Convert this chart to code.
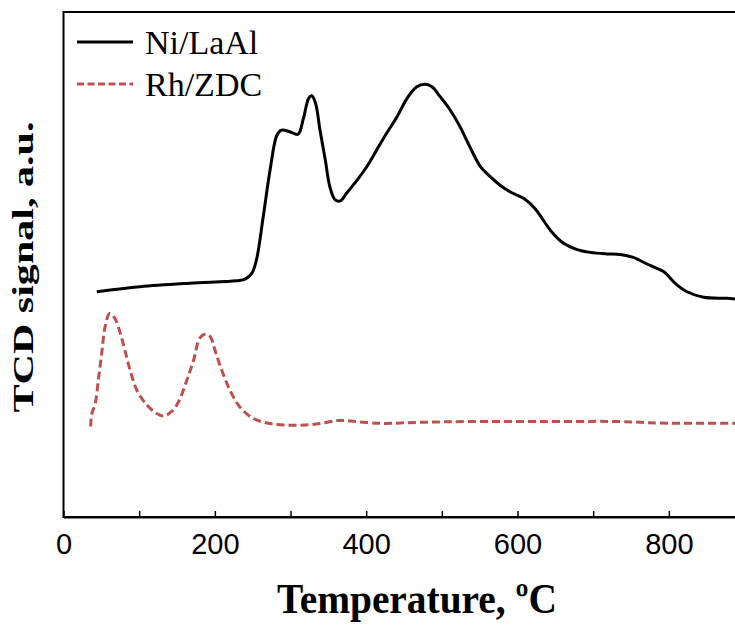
<!DOCTYPE html>
<html>
<head>
<meta charset="utf-8">
<script src="https://cdn.jsdelivr.net/npm/d3@7"></script>
<style>
  body { margin: 0; background: #fff; }
  svg { display: block; }
</style>
</head>
<body>
<div id="chartArea"></div>
<script>
// Ni/LaAl TPR trace (temperature in ºC, signal in arbitrary units)
const niTemp = [44, 101, 167, 229, 240, 249, 255, 264, 273, 282, 288, 299, 310, 317, 324, 328, 333, 339, 346, 352, 359, 366, 374, 388, 401, 414, 427, 441, 454, 467, 478, 487, 498, 511, 524, 537, 551, 564, 577, 590, 608, 623, 634, 645, 661, 678, 696, 718, 736, 753, 771, 782, 793, 811, 824, 846, 877, 895];
const niSignal = [44.6, 45.6, 46.3, 46.8, 47.1, 48.3, 50.9, 59.5, 68.7, 75.6, 76.6, 76.3, 75.8, 78.9, 82.9, 83.4, 82.0, 76.6, 70.7, 65.4, 62.8, 62.6, 64.1, 66.7, 69.4, 72.7, 76.0, 79.3, 82.9, 85.2, 85.7, 85.2, 83.2, 80.6, 77.3, 73.3, 69.4, 67.4, 65.7, 64.4, 63.1, 61.1, 58.8, 56.5, 54.2, 53.0, 52.4, 52.1, 52.0, 51.4, 50.1, 49.4, 48.6, 45.9, 44.6, 43.5, 43.3, 43.1];

// Rh/ZDC TPR trace
const rhTemp = [36, 37, 42, 46, 50.5, 55, 61, 68, 75, 81, 88, 97, 110, 123, 132, 143, 152, 163, 172, 180, 187, 194, 200, 209, 220, 233, 251, 273, 295, 317, 339, 361, 370, 418, 471, 537, 630, 736, 788, 888, 895];
const rhSignal = [17.9, 20.2, 22.5, 27.1, 32.4, 37.7, 40.3, 39.3, 36.4, 33.1, 29.1, 25.1, 22.2, 20.5, 20.0, 20.9, 22.8, 27.1, 31.1, 35.4, 36.2, 35.7, 33.1, 29.1, 25.1, 21.8, 19.5, 18.5, 18.2, 18.2, 18.5, 19.1, 19.1, 18.55, 18.75, 18.9, 18.9, 18.9, 18.6, 18.55, 18.55];

const seriesNames = ["Ni/LaAl", "Rh/ZDC"];
const xTickValues = [0, 100, 200, 300, 400, 500, 600, 700, 800];
const xTickLabels = ["0", "200", "400", "600", "800"];

(function() {
  const W = 735, H = 626;
  const left = 63.5, top = 12, bottom = 517;

  const svg = d3
    .select("#chartArea")
    .append("svg")
    .attr("width", W)
    .attr("height", H);

  const xScale = d3
    .scaleLinear()
    .domain([0, 900])
    .range([left, left + 681]);

  const yScale = d3
    .scaleLinear()
    .domain([0, 100])
    .range([bottom, top]);

  // plot frame (right side falls off the picture)
  svg
    .append("rect")
    .attr("x", left)
    .attr("y", top)
    .attr("width", xScale(900) - left)
    .attr("height", bottom - top)
    .attr("fill", "none")
    .attr("stroke", "#000")
    .attr("stroke-width", 2);

  const xAxis = d3
    .axisBottom(xScale)
    .tickValues(xTickValues)
    .tickSizeInner(-6)
    .tickSizeOuter(0)
    .tickFormat(d => (xTickLabels.includes(String(d)) ? String(d) : ""))
    .tickPadding(16);

  const gx = svg
    .append("g")
    .attr("class", "x axis")
    .attr("transform", "translate(0," + bottom + ")")
    .call(xAxis);
  gx.select(".domain").attr("stroke", "#000").attr("stroke-width", 2);
  gx.selectAll(".tick line").attr("stroke", "#000").attr("stroke-width", 1.5);
  gx.selectAll(".tick text")
    .attr("font-family", "'Liberation Sans', Arial, sans-serif")
    .attr("font-size", 29)
    .attr("fill", "#000");

  const line = d3
    .line()
    .x(d => xScale(d[0]))
    .y(d => yScale(d[1]))
    .curve(d3.curveMonotoneX);

  const niData = niTemp.map((t, i) => [t, niSignal[i]]);
  const rhData = rhTemp.map((t, i) => [t, rhSignal[i]]);

  svg
    .append("path")
    .datum(rhData)
    .attr("d", line.curve(d3.curveCatmullRom))
    .attr("fill", "none")
    .attr("stroke", "#C0504D")
    .attr("stroke-width", 3)
    .attr("stroke-dasharray", "8,4");

  svg
    .append("path")
    .datum(niData)
    .attr("d", line.curve(d3.curveCatmullRom))
    .attr("fill", "none")
    .attr("stroke", "#000")
    .attr("stroke-width", 3)
    .attr("stroke-linejoin", "round");

  // legend
  const legend = svg.append("g").attr("class", "legend");
  const legendRows = [
    { name: seriesNames[0], color: "#000", dash: null, y: 42 },
    { name: seriesNames[1], color: "#C0504D", dash: "7,3.5", y: 84 }
  ];
  legendRows.forEach(r => {
    legend
      .append("line")
      .attr("x1", 77)
      .attr("x2", 133)
      .attr("y1", r.y)
      .attr("y2", r.y)
      .attr("stroke", r.color)
      .attr("stroke-width", 3)
      .attr("stroke-dasharray", r.dash);
    legend
      .append("text")
      .attr("x", 145)
      .attr("y", r.y + 12)
      .attr("font-family", "'Liberation Serif', 'Times New Roman', serif")
      .attr("font-size", 34)
      .attr("fill", "#000")
      .text(r.name);
  });

  // axis titles
  svg
    .append("text")
    .attr("x", 417)
    .attr("y", 613)
    .attr("text-anchor", "middle")
    .attr("font-family", "'Liberation Serif', 'Times New Roman', serif")
    .attr("font-weight", "bold")
    .attr("font-size", 42)
    .attr("textLength", 280)
    .attr("lengthAdjust", "spacingAndGlyphs")
    .text("Temperature, ºC");

  svg
    .append("text")
    .attr("transform", "translate(33,267) rotate(-90)")
    .attr("text-anchor", "middle")
    .attr("font-family", "'Liberation Serif', 'Times New Roman', serif")
    .attr("font-weight", "bold")
    .attr("font-size", 30)
    .attr("textLength", 291)
    .attr("lengthAdjust", "spacingAndGlyphs")
    .text("TCD signal, a.u.");
})();
</script>
</body>
</html>
